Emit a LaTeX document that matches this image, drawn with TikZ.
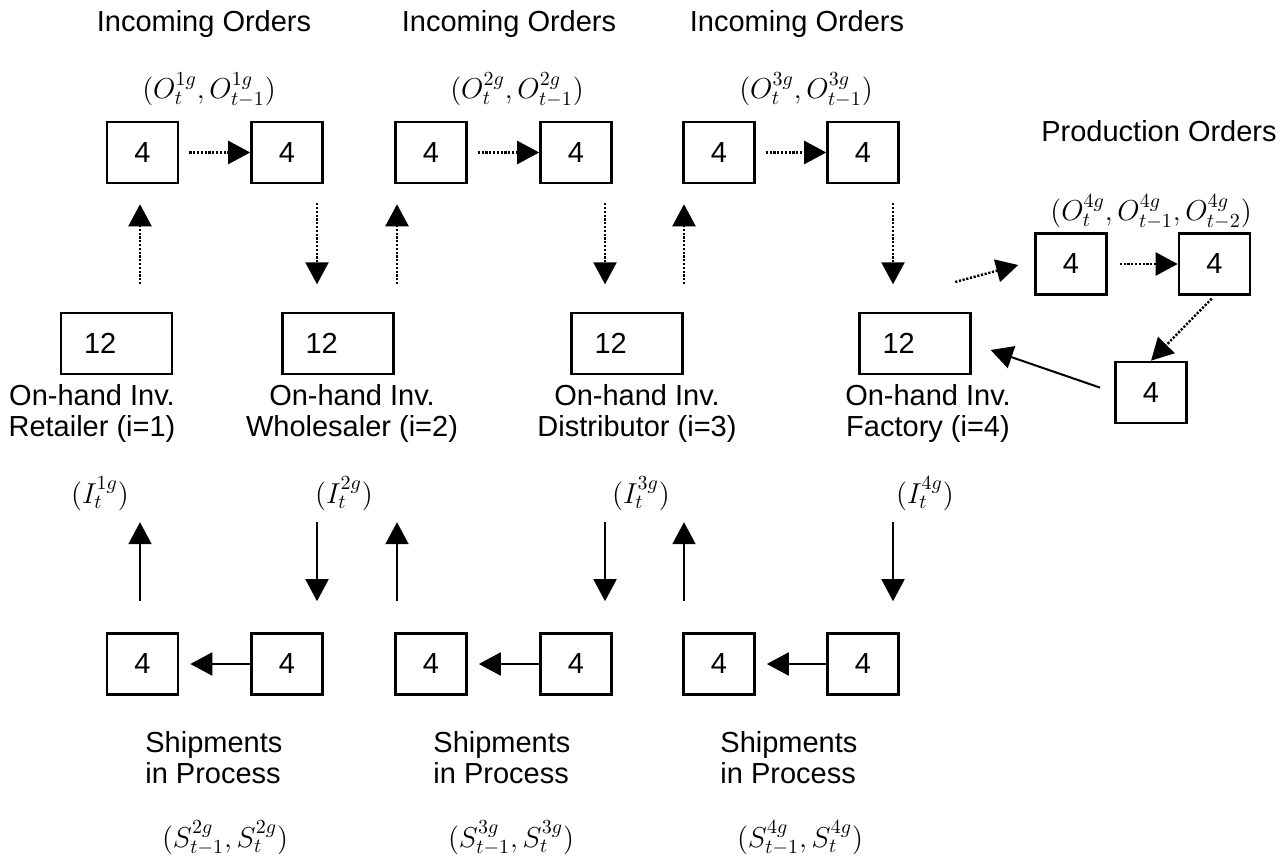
\documentclass[tikz,border=0pt]{standalone}
\usepackage{fontspec}
\setmainfont{Liberation Sans}
\usetikzlibrary{positioning,arrows.meta}

\begin{document}
\begin{tikzpicture}[x=0.5pt,y=-0.5pt]
			\tikzstyle{every node}+=[inner sep=0pt, font=\fontsize{14.5}{15.5}\selectfont]
			\tikzstyle{cell}=[draw=black, line width=1.3pt, minimum width=35.5pt, minimum height=30.5pt]
			\tikzstyle{stock}=[draw=black, line width=1.3pt, minimum height=30.5pt, text width=32.5pt, inner xsep=11.5pt, align=left]
			\tikzstyle{dotarr}=[black, line width=1.2pt, dash pattern=on 1.1pt off 0.8pt, -{Triangle[length=11pt,width=11.5pt]}]
			\tikzstyle{solarr}=[black, line width=1pt, -{Triangle[length=11pt,width=11.5pt]}]
			\useasboundingbox (0,0) rectangle (1283,860);
			% orders in the pipeline
			\draw (142.5,152.5) node[cell] (o1a) {4};
			\draw (287,152.5) node[cell] (o1b) {4};
			\draw (431,152.5) node[cell] (o2a) {4};
			\draw (576,152.5) node[cell] (o2b) {4};
			\draw (719,152.5) node[cell] (o3a) {4};
			\draw (863,152.5) node[cell] (o3b) {4};
			\draw (204,32) node[anchor=base] (in1) {Incoming Orders};
			\draw (509,32) node[anchor=base] (in2) {Incoming Orders};
			\draw (797,32) node[anchor=base] (in3) {Incoming Orders};
			\draw (209,99) node[anchor=base] (ol1) {$(O_t^{1g},O_{t-1}^{1g})$};
			\draw (517,99) node[anchor=base] (ol2) {$(O_t^{2g},O_{t-1}^{2g})$};
			\draw (806,99) node[anchor=base] (ol3) {$(O_t^{3g},O_{t-1}^{3g})$};
			% production
			\draw (1071,264) node[cell] (p1) {4};
			\draw (1214.5,264) node[cell] (p2) {4};
			\draw (1151,392.5) node[cell] (p3) {4};
			\draw (1159,142) node[anchor=base] (prod) {Production Orders};
			\draw (1151,221) node[anchor=base] (pl) {$(O_t^{4g},O_{t-1}^{4g},O_{t-2}^{4g})$};
			% on-hand inventory
			\draw (116.5,343.5) node[stock] (inv1) {12};
			\draw (338,343.5) node[stock] (inv2) {12};
			\draw (627,343.5) node[stock] (inv3) {12};
			\draw (915,343.5) node[stock] (inv4) {12};
			\draw (92,437) node[anchor=base, align=center] (il1) {On-hand Inv.\\Retailer (i=1)};
			\draw (352,437) node[anchor=base, align=center] (il2) {On-hand Inv.\\Wholesaler (i=2)};
			\draw (637,437) node[anchor=base, align=center] (il3) {On-hand Inv.\\Distributor (i=3)};
			\draw (928,437) node[anchor=base, align=center] (il4) {On-hand Inv.\\Factory (i=4)};
			\draw (100,503) node[anchor=base] (iv1) {$(I_t^{1g})$};
			\draw (344,503) node[anchor=base] (iv2) {$(I_t^{2g})$};
			\draw (641,503) node[anchor=base] (iv3) {$(I_t^{3g})$};
			\draw (925,503) node[anchor=base] (iv4) {$(I_t^{4g})$};
			% shipments
			\draw (142.5,664) node[cell] (s1a) {4};
			\draw (287,664) node[cell] (s1b) {4};
			\draw (431,664) node[cell] (s2a) {4};
			\draw (576,664) node[cell] (s2b) {4};
			\draw (719,664) node[cell] (s3a) {4};
			\draw (863,664) node[cell] (s3b) {4};
			\draw (145,783) node[anchor=base west, align=left] (sp1) {Shipments\\in Process};
			\draw (433,783) node[anchor=base west, align=left] (sp2) {Shipments\\in Process};
			\draw (720,783) node[anchor=base west, align=left] (sp3) {Shipments\\in Process};
			\draw (225,847) node[anchor=base] (sl1) {$(S_{t-1}^{2g},S_t^{2g})$};
			\draw (511,847) node[anchor=base] (sl2) {$(S_{t-1}^{3g},S_t^{3g})$};
			\draw (800,847) node[anchor=base] (sl3) {$(S_{t-1}^{4g},S_t^{4g})$};
			% dotted order flow
			\draw [dotarr, shorten <=5pt] (o1a.east) -- (o1b.west);
			\draw [dotarr, shorten <=5pt] (o2a.east) -- (o2b.west);
			\draw [dotarr, shorten <=5pt] (o3a.east) -- (o3b.west);
			\draw [dotarr, shorten <=6pt] (p1.east) -- (p2.west);
			\draw [dotarr, shorten <=2pt] (p2.south) -- (p3.north);
			\draw [dotarr] ([shift={(-79,18)}]p1.west) -- ([shift={(-16,1)}]p1.west);
			\draw [dotarr] ([shift={(-2.5,100)}]o1a.south) -- ([shift={(-2.5,20)}]o1a.south);
			\draw [dotarr] ([shift={(30,19)}]o1b.south) -- ([shift={(30,100)}]o1b.south);
			\draw [dotarr] ([shift={(-34,100)}]o2a.south) -- ([shift={(-34,20)}]o2a.south);
			\draw [dotarr] ([shift={(29,19)}]o2b.south) -- ([shift={(29,100)}]o2b.south);
			\draw [dotarr] ([shift={(-35,100)}]o3a.south) -- ([shift={(-35,20)}]o3a.south);
			\draw [dotarr] ([shift={(30,19)}]o3b.south) -- ([shift={(30,100)}]o3b.south);
			% solid goods flow
			\draw [solarr, shorten >=5.5pt] (s1b.west) -- (s1a.east);
			\draw [solarr, shorten >=5.5pt] (s2b.west) -- (s2a.east);
			\draw [solarr, shorten >=5.5pt] (s3b.west) -- (s3a.east);
			\draw [solarr, shorten <=7.5pt, shorten >=10pt] (p3.west) -- (inv4.east);
			\draw [solarr] ([shift={(-2.5,-31)}]s1a.north) -- ([shift={(-2.5,-110)}]s1a.north);
			\draw [solarr] ([shift={(30,-110)}]s1b.north) -- ([shift={(30,-31)}]s1b.north);
			\draw [solarr] ([shift={(-34,-31)}]s2a.north) -- ([shift={(-34,-110)}]s2a.north);
			\draw [solarr] ([shift={(29,-110)}]s2b.north) -- ([shift={(29,-31)}]s2b.north);
			\draw [solarr] ([shift={(-35,-31)}]s3a.north) -- ([shift={(-35,-110)}]s3a.north);
			\draw [solarr] ([shift={(30,-110)}]s3b.north) -- ([shift={(30,-31)}]s3b.north);
\end{tikzpicture}
\end{document}
